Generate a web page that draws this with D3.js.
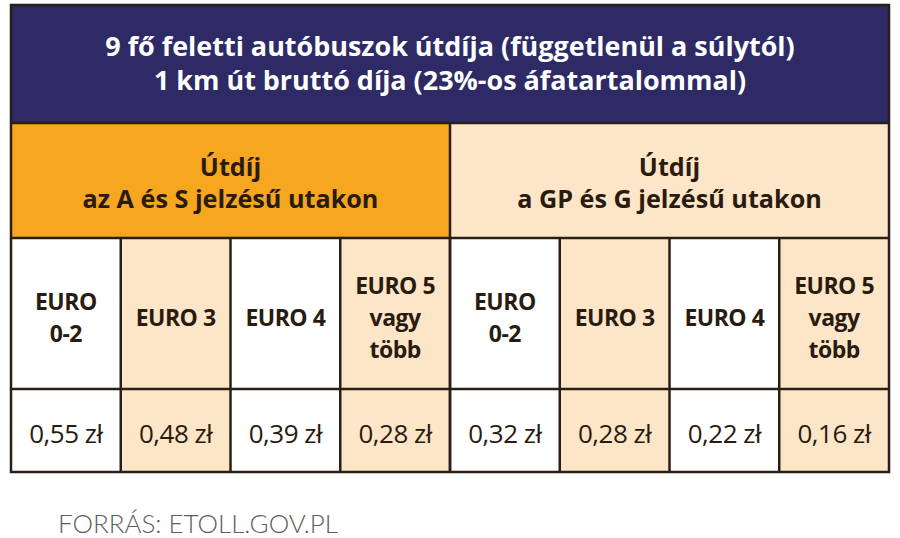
<!DOCTYPE html>
<html>
<head>
<meta charset="utf-8">
<script src="https://cdn.jsdelivr.net/npm/d3@7"></script>
<style>
  *{box-sizing: border-box;}
  body{ margin: 0; padding: 0; background: #fff; }
  svg{ display: block; }
</style>
</head>
<body>
<svg id="tbl" width="900" height="538"></svg>
<script>
  // adatok
  let titleLines = ['9 fő feletti autóbuszok útdíja (függetlenül a súlytól)',
                    '1 km út bruttó díja (23%-os áfatartalommal)'];
  let groups = [
    ['Útdíj', 'az A és S jelzésű utakon'],
    ['Útdíj', 'a GP és G jelzésű utakon']
  ];
  let classes = [['EURO', '0-2'], ['EURO 3'], ['EURO 4'], ['EURO 5', 'vagy', 'több']];
  let pricesAS = ['0,55 zł', '0,48 zł', '0,39 zł', '0,28 zł'];
  let pricesGP = ['0,32 zł', '0,28 zł', '0,22 zł', '0,16 zł'];
  let source = 'FORRÁS: ETOLL.GOV.PL';

  // színek
  let navy = '#2d2a66', orange = '#f6a61f', peach = '#fde6c8', line = '#2a1f17', ink = '#2a1b10';

  let svg = d3.select('svg#tbl');
  let L = 11, R = 889;
  let rows = { top: 5, title: 123, group: 238, head: 389, bottom: 472 };

  let cols = [];
  groups.forEach((g, gi) => classes.forEach((c, ci) => cols.push({ g: gi, c: ci, label: c,
    price: (gi ? pricesGP : pricesAS)[ci] })));

  let x = d3.scaleBand().domain(d3.range(cols.length)).range([L, R]);
  let xg = d3.scaleBand().domain(d3.range(groups.length)).range([L, R]);

  // háttér
  svg.append('rect').attr('x', L).attr('y', rows.top).attr('width', R - L)
    .attr('height', rows.title - rows.top).attr('fill', navy);

  svg.selectAll('.grp').data(groups).enter().append('rect')
    .attr('x', (d, i) => xg(i)).attr('y', rows.title)
    .attr('width', xg.bandwidth()).attr('height', rows.group - rows.title)
    .attr('fill', (d, i) => i ? peach : orange);

  svg.selectAll('.cell').data(cols).enter().append('rect')
    .attr('x', (d, i) => x(i)).attr('y', rows.group)
    .attr('width', x.bandwidth()).attr('height', rows.bottom - rows.group)
    .attr('fill', d => d.c % 2 ? peach : '#fff');

  // szöveg – font méret illesztése szélességre
  function fit(sel, w) {
    let n = sel.node(), fs = parseFloat(sel.attr('font-size'));
    let len = n.getComputedTextLength();
    if (len) sel.attr('font-size', fs * w / len);
    return sel;
  }

  let cx = (L + R) / 2;
  let t1 = svg.append('text').attr('x', cx).attr('y', 56).attr('text-anchor', 'middle')
    .attr('font-family', 'Open Sans').attr('font-weight', 700).attr('font-size', 22)
    .attr('fill', '#fff').text(titleLines[0]);
  fit(t1, 690);
  svg.append('text').attr('x', cx).attr('y', 90).attr('text-anchor', 'middle')
    .attr('font-family', 'Open Sans').attr('font-weight', 700).attr('font-size', t1.attr('font-size'))
    .attr('fill', '#fff').text(titleLines[1]);

  // csoport fejléc – közös méret a bal alsó sor szélessége alapján
  let probe = svg.append('text').attr('font-family', 'Open Sans').attr('font-weight', 700)
    .attr('font-size', 22).text(groups[0][1]);
  fit(probe, 296);
  let gfs = probe.attr('font-size');
  probe.remove();

  groups.forEach((g, i) => {
    let gx = xg(i) + xg.bandwidth() / 2;
    g.forEach((s, j) => {
      svg.append('text').attr('x', gx).attr('y', 176 + j * 32).attr('text-anchor', 'middle')
        .attr('font-family', 'Open Sans').attr('font-weight', 700).attr('font-size', gfs)
        .attr('fill', ink).text(s);
    });
  });

  let headMid = (rows.group + rows.head) / 2 + 3;
  cols.forEach((d, i) => {
    let hx = x(i) + x.bandwidth() / 2;
    let n = d.label.length, lh = 32;
    d.label.forEach((s, j) => {
      svg.append('text').attr('x', hx)
        .attr('y', headMid + (j - (n - 1) / 2) * lh + 9)
        .attr('text-anchor', 'middle')
        .attr('font-family', 'Open Sans').attr('font-weight', 700).attr('font-size', 23)
        .attr('letter-spacing', -0.5)
        .attr('fill', ink).text(s);
    });
    svg.append('text').attr('x', hx).attr('y', (rows.head + rows.bottom) / 2 + 12)
      .attr('text-anchor', 'middle')
      .attr('font-family', 'Open Sans').attr('font-weight', 400).attr('font-size', 26)
      .attr('letter-spacing', -0.5)
      .attr('fill', ink).text(d.price);
  });

  // vonalak
  let lw = 2.5;
  let hl = [rows.title, rows.group, rows.head];
  svg.selectAll('.hl').data(hl).enter().append('line')
    .attr('x1', L).attr('x2', R).attr('y1', d => d).attr('y2', d => d)
    .attr('stroke', line).attr('stroke-width', lw);
  svg.append('line').attr('x1', xg(1)).attr('x2', xg(1)).attr('y1', rows.title).attr('y2', rows.bottom)
    .attr('stroke', line).attr('stroke-width', lw);
  svg.selectAll('.vl').data(d3.range(1, cols.length)).enter().append('line')
    .attr('x1', d => x(d)).attr('x2', d => x(d)).attr('y1', rows.group).attr('y2', rows.bottom)
    .attr('stroke', line).attr('stroke-width', lw);
  svg.append('rect').attr('x', L).attr('y', rows.top).attr('width', R - L)
    .attr('height', rows.bottom - rows.top).attr('fill', 'none')
    .attr('stroke', line).attr('stroke-width', lw);

  let src = svg.append('text').attr('x', 58).attr('y', 533)
    .attr('font-family', 'Lato').attr('font-weight', 300).attr('font-size', 27)
    .attr('fill', '#5e5e5e').text(source);
  fit(src, 280);
</script>
</body>
</html>
